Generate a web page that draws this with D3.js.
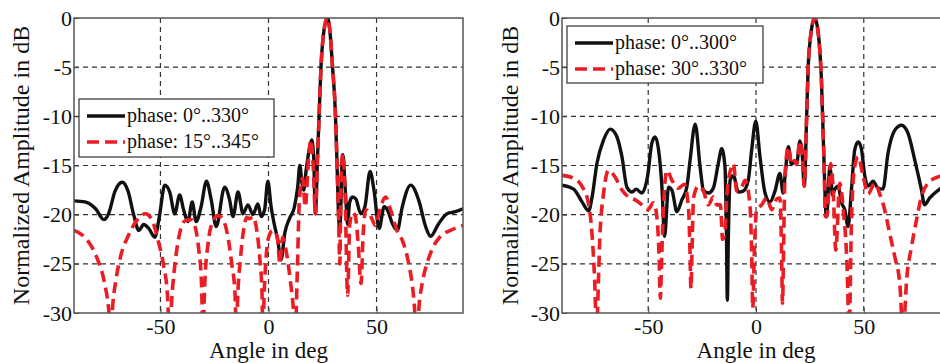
<!DOCTYPE html>
<html>
<head>
<meta charset="utf-8">
<script src="https://cdn.jsdelivr.net/npm/d3@7"></script>
<style>
  body { margin: 0; background: #fff; }
  svg { display: block; }
  text { font-family: "Liberation Serif", "DejaVu Serif", serif; }
  .tick text { font-size: 22px; fill: #111; }
</style>
</head>
<body>
<svg id="chart" width="940" height="363"></svg>
<script>
// angle (deg) / normalized amplitude (dB) pairs
const xTicks = [-50, 0, 50];
const yTicks = [0, -5, -10, -15, -20, -25, -30];

const leftSolid = [
  [-90,-18.6],[-85,-18.7],[-80,-19.4],[-76.2,-20.5],[-74,-19.9],[-71,-17.6],[-67.7,-16.7],[-65,-17.6],
  [-62.4,-20.0],[-60,-21.6],[-57.8,-21.0],[-55.4,-21.4],[-52.6,-22.3],[-50.5,-20.2],[-48,-17.0],[-45.7,-17.7],
  [-43.4,-19.9],[-41.1,-18.0],[-39.3,-19.5],[-37.3,-20.7],[-35.3,-18.7],[-33.5,-20.7],[-31.2,-19.2],[-28.7,-16.6],
  [-26.5,-18.5],[-24.2,-21.2],[-20.3,-17.2],[-18,-18.5],[-16.4,-20.2],[-14.1,-17.7],[-11.8,-19.9],[-9.5,-19.0],
  [-7.2,-20.0],[-4.9,-18.9],[-3.4,-20.2],[-1.8,-19.5],[-0.3,-16.6],[1.2,-19.2],[2.5,-20.8],[4.3,-22.6],
  [5.8,-24.6],[7.6,-21.8],[9.7,-20.4],[12,-19.2],[13.5,-17.2],[14.5,-15.0],[15.5,-16.8],[16.3,-17.5],
  [17.4,-15.5],[18.9,-13.3],[20,-12.4],[20.9,-14.1],[21.7,-19.9],[22.7,-14.1],[23.5,-9.4],[24.3,-4.9],
  [25.3,-1.9],[26.4,-0.4],[27.3,0],[28.4,-1.3],[29.6,-4.9],[30.9,-9.4],[31.6,-14],[32.4,-19.9],
  [33,-21.5],[34.3,-13.9],[35.8,-18.5],[36.6,-21],[37.5,-18.8],[38.8,-18.2],[40.4,-18.4],[42.7,-19.9],
  [44.6,-19.2],[47,-15.6],[48.8,-17.5],[51.2,-21.4],[53.5,-19.2],[55,-19.5],[57.3,-20.9],[59.6,-21.6],
  [61.9,-19.2],[65.8,-17.0],[69.6,-18.6],[72.7,-21.2],[75,-22.2],[78.8,-20.9],[82.6,-19.9],[86.5,-19.7],[90,-19.4]
];

const leftDashed = [
  [-90,-21.6],[-86,-22.1],[-82,-23.2],[-79,-24.6],[-76,-26.8],[-74,-29.5],[-73,-32],[-72,-29],
  [-70.5,-26.5],[-68.5,-24.3],[-65,-22.2],[-61,-20.6],[-57,-19.9],[-54,-20.5],[-51,-22.7],[-48.5,-25.2],
  [-46.8,-28],[-45.8,-32],[-44.6,-28],[-43,-24.5],[-41,-21.8],[-38.5,-20.6],[-36,-20.5],[-34,-21.2],
  [-32.3,-23.5],[-31,-27],[-30.3,-32],[-29.5,-27],[-28,-23],[-26,-20.8],[-23.4,-20.1],[-21,-20.5],
  [-19,-22],[-17,-25],[-15.5,-28],[-14.9,-32],[-14.2,-28],[-13,-24.5],[-11.5,-21.5],[-10,-20.3],
  [-8.8,-20.4],[-7,-20.2],[-5.5,-21.5],[-4,-24.5],[-3,-28],[-2.6,-32],[-2,-28],[-1,-24],
  [0.5,-22],[2,-21.6],[4,-22.2],[5.3,-25],[6.5,-22.3],[8,-23.5],[10,-26.5],[11.5,-29.5],
  [12.4,-32],[13.3,-26],[14.3,-18.5],[15.8,-16.3],[17,-19.2],[18.6,-14.1],[19.7,-12.4],[20.7,-15.1],
  [21.7,-19.9],[22.7,-14.1],[23.5,-9.4],[24.3,-4.9],[25.3,-1.9],[26.4,-0.4],[27.3,0],[28.4,-1.3],
  [29.6,-4.9],[30.9,-9.4],[31.6,-14],[32.4,-19.9],[33,-25],[33.5,-17.2],[34.4,-13.8],[35.5,-18.5],
  [36.6,-28.2],[37.6,-21],[38.9,-19.8],[40.2,-20.2],[41.5,-23],[42.8,-27],[43.8,-22],[45,-19.5],
  [46.5,-19.8],[48,-20.5],[49.5,-21.1],[51.5,-19.5],[54.2,-18.2],[56.5,-19.5],[59.6,-21.7],[61.9,-22.6],
  [64.2,-24.3],[67.3,-28.7],[68.5,-32],[70,-28.5],[71.1,-27],[75,-23.9],[79.6,-22.2],[84.2,-21.6],[90,-21.1]
];

const rightSolid = [
  [-90,-17.0],[-84.6,-17.4],[-80.7,-18.7],[-77.6,-19.6],[-76.1,-18.3],[-73.8,-14.8],[-70.7,-12.4],[-67.6,-11.3],
  [-64.5,-12.1],[-62.2,-14.1],[-59.9,-17.2],[-57.5,-17.7],[-55.6,-17.4],[-53,-17.8],[-50.3,-16.1],[-48.3,-12.7],
  [-46.8,-12.1],[-45.2,-13.4],[-43.7,-17.0],[-42.4,-22.2],[-40.6,-17.2],[-39,-17.5],[-36.7,-19.7],[-34.4,-18.5],
  [-32.1,-17.2],[-30.6,-14.5],[-28.2,-10.8],[-25.9,-15.2],[-24.4,-17.5],[-22.1,-17.8],[-19.8,-17.3],[-17.5,-14.8],
  [-15.9,-13.3],[-14.4,-15.1],[-13.7,-22],[-13.3,-28.7],[-12.8,-22],[-12,-16.5],[-10.5,-16.0],[-8.2,-17.7],
  [-5.9,-17.6],[-3.6,-16.5],[-2,-13.4],[-0.1,-10.5],[1.9,-14.2],[4.2,-17.8],[6.5,-18.7],[8.8,-17.6],
  [11.1,-15.8],[12.6,-17.8],[13.7,-15.5],[15,-13.1],[16.5,-14.9],[18,-14.5],[18.8,-14.9],[20.4,-12.5],
  [21.4,-13.7],[22.4,-17.1],[23.5,-10],[24.2,-5],[25.1,-2.3],[26,-0.8],[27.2,0],[28.4,-0.8],
  [29.6,-3.3],[30.3,-6],[30.9,-10],[31.6,-15],[32.2,-19],[32.7,-20.2],[34.3,-15.1],[35.5,-18.0],
  [36.6,-17.4],[38.1,-17.1],[39.7,-18.8],[41.2,-19.5],[42.7,-21.2],[44.3,-17.4],[45.8,-13.4],[47.4,-12.6],
  [48.9,-13.3],[50.5,-16.1],[52,-17.1],[54.3,-16.6],[56.6,-17.3],[58.9,-17.4],[61.2,-13.8],[64.4,-11.4],
  [67.5,-10.9],[70.5,-11.7],[73.6,-14.4],[76.7,-17.4],[78.2,-19.0],[80.6,-18.3],[85.2,-17.4],[90,-16.8]
];

const rightDashed = [
  [-90,-16.0],[-84.6,-16.3],[-80,-17.4],[-77.6,-19.0],[-76.1,-21.9],[-74.8,-27],[-74,-32],[-73,-26],
  [-72.5,-22.6],[-70.7,-17.8],[-68.4,-15.5],[-65.3,-16.2],[-62.2,-17.5],[-59.1,-18.2],[-56,-18.5],[-52.9,-19.0],
  [-50.3,-19.5],[-47.5,-18.8],[-46,-20.2],[-45,-24],[-44.4,-28.5],[-43.7,-24],[-42.9,-19.1],[-41.3,-15.5],
  [-39,-16.5],[-36,-17.3],[-33.3,-16.9],[-31.3,-19.4],[-30.6,-24],[-30.2,-27.5],[-29.6,-23],[-29,-18.3],
  [-26.7,-17.1],[-24.4,-17.6],[-22.1,-19],[-19.8,-18.2],[-18.2,-19],[-16.5,-19],[-15.5,-22.5],[-14.5,-22],
  [-13.5,-18],[-11.5,-15.2],[-10.5,-14.8],[-8.9,-17.6],[-6.6,-17.2],[-5.1,-16.5],[-2.8,-19.0],[-2,-24],
  [-1.5,-29.5],[-0.8,-24],[0.3,-19.5],[2.6,-19],[4.9,-18.3],[7.3,-19.5],[9.6,-18.4],[11.1,-18.3],
  [11.8,-23],[12.3,-29],[12.9,-22],[13.4,-16.2],[15,-13.1],[16.5,-14.9],[18,-14.5],[18.8,-14.9],
  [20.4,-12.5],[21.4,-13.7],[22.4,-17.1],[23.5,-10],[24.2,-5],[25.1,-2.3],[26,-0.8],[27.2,0],
  [28.4,-0.8],[29.6,-3.3],[30.3,-6],[30.9,-10],[31.6,-15],[32.2,-20.2],[32.9,-20.2],[34.6,-14.8],
  [35.8,-17.4],[37,-23.6],[38.9,-16.8],[40.4,-19.3],[42.3,-25.6],[43.2,-32],[44.3,-20.5],[45.8,-15.1],
  [47.4,-14.1],[49.7,-16.1],[52,-17.9],[55.1,-16.8],[57.4,-17.9],[59.7,-19.5],[62,-21.9],[64.4,-24.3],
  [66.7,-27],[68.2,-32],[70,-26.3],[72.1,-23.3],[74.4,-20.6],[76.7,-18.2],[79.8,-16.8],[85.2,-16.1],[90,-15.8]
];

const leftLegend = ["phase: 0°..330°", "phase: 15°..345°"];
const rightLegend = ["phase: 0°..300°", "phase: 30°..330°"];

const xTitle = "Angle in deg";
const yTitle = "Normalized Amplitude in dB";

const serif = "Liberation Serif, DejaVu Serif, serif";
const svg = d3.select("#chart");
const plotTop = 18, plotBottom = 313;

function drawPanel(id, left, right, solid, dashed, labels, legendBox, titleX) {
  let x = d3.scaleLinear().domain([-90, 90]).range([left, right]);
  let y = d3.scaleLinear().domain([-30, 0]).range([plotBottom, plotTop]);

  let g = svg.append("g");

  g.append("clipPath").attr("id", id)
    .append("rect")
    .attr("x", left).attr("y", plotTop)
    .attr("width", right - left).attr("height", plotBottom - plotTop);

  // grid
  g.selectAll(".gx").data(xTicks).join("line")
    .attr("x1", d => x(d)).attr("x2", d => x(d))
    .attr("y1", plotTop).attr("y2", plotBottom)
    .attr("stroke", "#333").attr("stroke-width", 1.2)
    .attr("stroke-dasharray", "5,4");
  g.selectAll(".gy").data(yTicks.filter(d => d != 0 && d != -30)).join("line")
    .attr("x1", left).attr("x2", right)
    .attr("y1", d => y(d)).attr("y2", d => y(d))
    .attr("stroke", "#333").attr("stroke-width", 1.2)
    .attr("stroke-dasharray", "5,4");

  // curves
  let line = d3.line()
    .x(d => x(d[0]))
    .y(d => y(d[1]))
    .curve(d3.curveMonotoneX);

  g.append("path").datum(solid)
    .attr("clip-path", "url(#" + id + ")")
    .attr("d", line)
    .attr("fill", "none")
    .attr("stroke", "#111")
    .attr("stroke-width", 3.4)
    .attr("stroke-linejoin", "round");

  g.append("path").datum(dashed)
    .attr("clip-path", "url(#" + id + ")")
    .attr("d", line)
    .attr("fill", "none")
    .attr("stroke", "#ec1c24")
    .attr("stroke-width", 3.6)
    .attr("stroke-dasharray", "11,6");

  // axes
  let xAxis = g.append("g")
    .attr("transform", "translate(0," + plotBottom + ")")
    .call(d3.axisBottom(x).tickValues(xTicks).tickSizeInner(-5).tickSizeOuter(0).tickPadding(5)
      .tickFormat(d => d < 0 ? "-" + Math.abs(d) : d));
  let yAxis = g.append("g")
    .attr("transform", "translate(" + left + ",0)")
    .call(d3.axisLeft(y).tickValues(yTicks).tickSizeInner(-5).tickSizeOuter(0).tickPadding(2)
      .tickFormat(d => d < 0 ? "-" + Math.abs(d) : d));
  [xAxis, yAxis].forEach(a => {
    a.attr("font-family", serif);
    a.select(".domain").remove();
    a.selectAll(".tick line").attr("stroke", "#444");
    a.selectAll(".tick text").attr("font-family", serif);
  });

  // frame
  g.append("rect")
    .attr("x", left).attr("y", plotTop)
    .attr("width", right - left).attr("height", plotBottom - plotTop)
    .attr("fill", "none").attr("stroke", "#555").attr("stroke-width", 1.5);

  // titles
  g.append("text")
    .attr("x", (left + right) / 2).attr("y", 357.5)
    .attr("text-anchor", "middle")
    .attr("font-family", serif)
    .attr("font-size", 23).attr("fill", "#111")
    .text(xTitle);
  g.append("text")
    .attr("transform", "translate(" + titleX + "," + ((plotTop + plotBottom) / 2) + ") rotate(-90)")
    .attr("text-anchor", "middle")
    .attr("font-family", serif)
    .attr("font-size", 24).attr("fill", "#111")
    .text(yTitle);

  // legend
  let lg = g.append("g");
  lg.append("rect")
    .attr("x", legendBox.x).attr("y", legendBox.y)
    .attr("width", legendBox.w).attr("height", legendBox.h)
    .attr("fill", "#fff").attr("stroke", "#333").attr("stroke-width", 1.2);
  let styles = [
    { stroke: "#111", width: 3.6, dash: null },
    { stroke: "#ec1c24", width: 3.6, dash: "12,6" }
  ];
  labels.forEach((lab, i) => {
    let ly = legendBox.y + 17 + i * 26;
    lg.append("line")
      .attr("x1", legendBox.x + 8).attr("x2", legendBox.x + 46)
      .attr("y1", ly).attr("y2", ly)
      .attr("stroke", styles[i].stroke)
      .attr("stroke-width", styles[i].width)
      .attr("stroke-dasharray", styles[i].dash);
    lg.append("text")
      .attr("x", legendBox.x + 48).attr("y", ly + 6)
      .attr("font-family", serif)
      .attr("font-size", 20).attr("fill", "#111")
      .text(lab);
  });
}

drawPanel("clipL", 74, 463, leftSolid, leftDashed, leftLegend, { x: 79, y: 99, w: 195, h: 58 }, 29);
drawPanel("clipR", 562, 950, rightSolid, rightDashed, rightLegend, { x: 567, y: 26, w: 196, h: 57 }, 518);
</script>
</body>
</html>
